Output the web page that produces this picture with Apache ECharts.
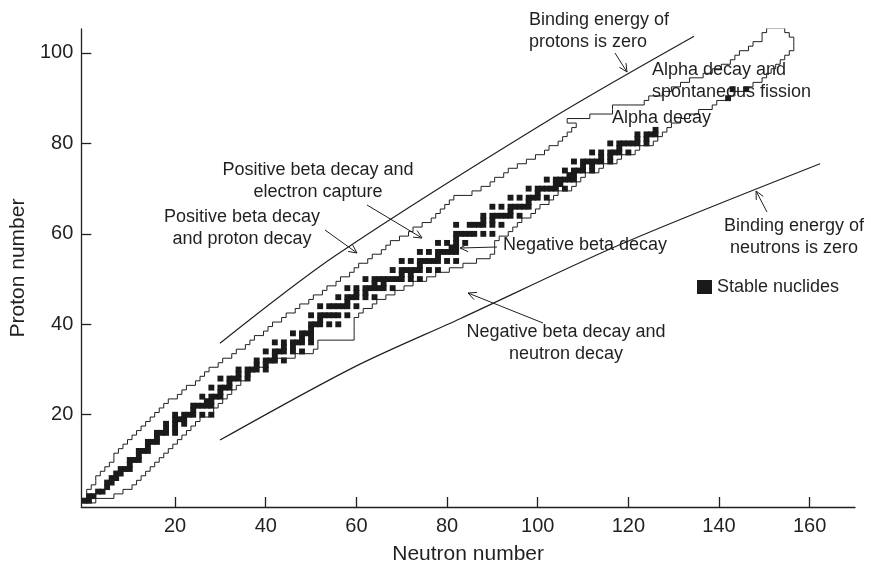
<!DOCTYPE html>
<html>
<head>
<meta charset="utf-8">
<script src="https://cdn.jsdelivr.net/npm/echarts@6/dist/echarts.min.js"></script>
<style>
  html, body { margin: 0; padding: 0; background: #fff; }
  #chart { width: 871px; height: 570px; }
</style>
</head>
<body>
<div id="chart"></div>
<script>
// known nuclides: one row per proton number, from nMin to nMax neutrons
const firstZ = 1;
const knownNmin = [
  0, 1, 1, 2, 3, 3, 4, 5, 6, 7,
  7, 8, 9, 10, 11, 12, 13, 14, 15, 16,
  17, 18, 19, 21, 22, 23, 25, 26, 27, 28,
  30, 31, 33, 34, 36, 37, 38, 40, 41, 42,
  44, 45, 47, 48, 50, 51, 53, 54, 56, 57,
  59, 60, 61, 63, 64, 66, 67, 68, 70, 72,
  73, 75, 77, 78, 79, 80, 81, 82, 86, 88,
  90, 91, 93, 94, 96, 98, 100, 102, 103, 105,
  106, 107, 108, 109, 107, 112, 117, 117, 124, 125,
  128, 130, 132, 134, 137, 139, 141, 143, 144, 145,
  147, 148, 150, 150, 151
];
const knownNmax = [
  2, 6, 8, 10, 11, 12, 13, 14, 15, 16,
  17, 18, 19, 20, 21, 22, 23, 24, 25, 27,
  28, 29, 30, 31, 32, 33, 34, 35, 36, 37,
  39, 42, 46, 50, 51, 51, 59, 59, 59, 59,
  59, 60, 61, 63, 64, 66, 68, 70, 72, 75,
  77, 80, 83, 86, 89, 90, 90, 90, 91, 93,
  94, 95, 96, 98, 99, 100, 102, 103, 104, 107,
  108, 109, 110, 113, 114, 117, 118, 121, 122, 125,
  126, 127, 128, 129, 131, 133, 135, 138, 139, 142,
  143, 146, 147, 149, 150, 151, 152, 153, 154, 155,
  156, 156, 156, 155, 154
];

// stable nuclides: proton number and its stable neutron numbers
const stableZ = [
  1, 2, 3, 4, 5, 6, 7, 8, 9, 10, 11, 12, 13, 14, 15, 16, 17, 18, 19, 20,
  21, 22, 23, 24, 25, 26, 27, 28, 29, 30, 31, 32, 33, 34, 35, 36, 37, 38, 39, 40,
  41, 42, 44, 45, 46, 47, 48, 49, 50, 51, 52, 53, 54, 55, 56, 57, 58, 59, 60,
  62, 63, 64, 65, 66, 67, 68, 69, 70, 71, 72, 73, 74, 75, 76, 77, 78, 79, 80,
  81, 82, 83, 90, 92
];
const stableN = [
  [0, 1], [1, 2], [3, 4], [5], [5, 6], [6, 7], [7, 8], [8, 9, 10], [10], [10, 11, 12],
  [12], [12, 13, 14], [14], [14, 15, 16], [16], [16, 17, 18, 20], [18, 20], [18, 20, 22],
  [20, 21, 22], [20, 22, 23, 24, 26, 28],
  [24], [24, 25, 26, 27, 28], [27, 28], [26, 28, 29, 30], [30], [28, 30, 31, 32], [32],
  [30, 32, 33, 34, 36], [34, 36], [34, 36, 37, 38, 40], [38, 40], [38, 40, 41, 42, 44],
  [42], [40, 42, 43, 44, 46, 48], [44, 46], [42, 44, 46, 47, 48, 50], [48, 50],
  [46, 48, 49, 50], [50], [50, 51, 52, 54, 56],
  [52], [50, 52, 53, 54, 55, 56, 58], [52, 54, 55, 56, 57, 58, 60], [58],
  [56, 58, 59, 60, 62, 64], [60, 62], [58, 60, 62, 63, 64, 65, 66, 68], [64, 66],
  [62, 64, 65, 66, 67, 68, 69, 70, 72, 74], [70, 72], [68, 70, 71, 72, 73, 74, 76, 78],
  [74], [70, 72, 74, 75, 76, 77, 78, 80, 82], [78], [74, 76, 78, 79, 80, 81, 82],
  [81, 82], [78, 80, 82, 84], [82], [82, 83, 84, 85, 86, 88, 90],
  [82, 85, 86, 87, 88, 90, 92], [88, 90], [88, 90, 91, 92, 93, 94, 96], [94],
  [90, 92, 94, 95, 96, 97, 98], [98], [94, 96, 98, 99, 100, 102], [100],
  [98, 100, 101, 102, 103, 104, 106], [104, 105], [102, 104, 105, 106, 107, 108],
  [107, 108], [106, 108, 109, 110, 112], [110, 112], [108, 110, 111, 112, 113, 114, 116],
  [114, 116], [112, 114, 116, 117, 118, 120], [118], [116, 118, 119, 120, 121, 122, 124],
  [122, 124], [122, 124, 125, 126], [126], [142], [143, 146]
];

// lines where the binding energy of the last nucleon is zero
const protonDripLine = [[29.9, 35.8], [55.4, 55.2], [102.7, 85.3], [134.5, 103.7]];
const neutronDripLine = [[29.9, 14.4], [59.8, 30.7], [83.0, 41.3], [118.6, 57.8], [162.3, 75.5]];

const xTicks = [20, 40, 60, 80, 100, 120, 140, 160];
const yTicks = [20, 40, 60, 80, 100];

const ink = '#231f20';
const font = '"Liberation Sans", Arial, Helvetica, sans-serif';

// outline of the known nuclides, walked round the cells
const outline = [];
knownNmin.forEach((n, i) => {
  const z = firstZ + i;
  outline.push([n - 0.5, z - 0.5], [n - 0.5, z + 0.5]);
});
for (let i = knownNmax.length - 1; i >= 0; i--) {
  const z = firstZ + i;
  outline.push([knownNmax[i] + 0.5, z + 0.5], [knownNmax[i] + 0.5, z - 0.5]);
}
outline.push(outline[0]);

const stableCells = [];
stableZ.forEach((z, i) => {
  stableN[i].forEach(n => stableCells.push([n, z]));
});

// annotations (page pixels)
const notes = [
  { text: 'Binding energy of\nprotons is zero', x: 529, y: 31, align: 'left' },
  { text: 'Alpha decay and\nspontaneous fission', x: 652, y: 81, align: 'left' },
  { text: 'Alpha decay', x: 612, y: 118, align: 'left' },
  { text: 'Positive beta decay and\nelectron capture', x: 318, y: 181, align: 'center' },
  { text: 'Positive beta decay\nand proton decay', x: 242, y: 228, align: 'center' },
  { text: 'Negative beta decay', x: 503, y: 245, align: 'left' },
  { text: 'Negative beta decay and\nneutron decay', x: 566, y: 343, align: 'center' },
  { text: 'Binding energy of\nneutrons is zero', x: 794, y: 237, align: 'center' }
];
const arrows = [
  [615, 53, 627, 72],
  [367, 205, 422, 238],
  [325, 230, 357, 253],
  [497, 247, 460, 248],
  [543, 323, 468, 293],
  [767, 212, 756, 191]
];

const graphic = [];
notes.forEach(n => {
  graphic.push({
    type: 'text', x: n.x, y: n.y, z: 100,
    style: {
      text: n.text, fill: ink, fontSize: 18, fontFamily: font,
      textAlign: n.align, textVerticalAlign: 'middle', lineHeight: 22
    }
  });
});
arrows.forEach(a => {
  const [x1, y1, x2, y2] = a;
  const ang = Math.atan2(y2 - y1, x2 - x1);
  const len = 9, spread = 0.45;
  const h1 = [x2 - len * Math.cos(ang - spread), y2 - len * Math.sin(ang - spread)];
  const h2 = [x2 - len * Math.cos(ang + spread), y2 - len * Math.sin(ang + spread)];
  graphic.push({ type: 'line', z: 100, shape: { x1, y1, x2, y2 }, style: { stroke: ink, lineWidth: 1 } });
  graphic.push({ type: 'polyline', z: 100, shape: { points: [h1, [x2, y2], h2] }, style: { stroke: ink, lineWidth: 1, fill: null } });
});

const chart = echarts.init(document.getElementById('chart'), null, { renderer: 'canvas' });
chart.setOption({
  animation: false,
  backgroundColor: '#fff',
  grid: { left: 73, right: 16, top: 29, bottom: 60 },
  legend: {
    left: 692, top: 273,
    itemWidth: 15, itemHeight: 14, itemGap: 6,
    textStyle: { fontSize: 18, color: ink, fontFamily: font },
    data: [{ name: 'Stable nuclides', icon: 'rect' }]
  },
  xAxis: {
    type: 'value', min: -0.7, max: 170,
    name: 'Neutron number', nameLocation: 'middle', nameGap: 37,
    nameTextStyle: { fontSize: 21, color: ink, fontFamily: font },
    axisLine: { onZero: false, lineStyle: { color: ink, width: 1.3 } },
    axisTick: { inside: true, length: 10, customValues: xTicks, lineStyle: { color: ink, width: 1.3 } },
    axisLabel: { customValues: xTicks, fontSize: 20, color: ink, fontFamily: font, margin: 9 },
    splitLine: { show: false }
  },
  yAxis: {
    type: 'value', min: -0.4, max: 105.3,
    name: 'Proton number', nameLocation: 'middle', nameGap: 47,
    nameTextStyle: { fontSize: 21, color: ink, fontFamily: font },
    axisLine: { onZero: false, lineStyle: { color: ink, width: 1.3 } },
    axisTick: { inside: true, length: 10, customValues: yTicks, lineStyle: { color: ink, width: 1.3 } },
    axisLabel: { customValues: yTicks, fontSize: 20, color: ink, fontFamily: font, margin: 8 },
    splitLine: { show: false }
  },
  series: [
    {
      name: 'Known nuclides', type: 'line', data: outline,
      showSymbol: false, silent: true,
      lineStyle: { color: ink, width: 1 }
    },
    {
      name: 'Stable nuclides', type: 'custom', data: stableCells,
      encode: { x: 0, y: 1 },
      itemStyle: { color: '#1a1a1a' },
      renderItem: function (params, api) {
        // cells drawn a little fuller than one unit, as in the printed chart
        const p0 = api.coord([api.value(0) - 0.65, api.value(1) + 0.65]);
        const p1 = api.coord([api.value(0) + 0.65, api.value(1) - 0.65]);
        return {
          type: 'rect',
          shape: { x: p0[0], y: p0[1], width: p1[0] - p0[0], height: p1[1] - p0[1] },
          style: { fill: '#1a1a1a' }
        };
      }
    },
    {
      name: 'Proton drip', type: 'line', data: protonDripLine,
      smooth: 0.3, showSymbol: false, silent: true,
      lineStyle: { color: ink, width: 1.2 }
    },
    {
      name: 'Neutron drip', type: 'line', data: neutronDripLine,
      smooth: 0.3, showSymbol: false, silent: true,
      lineStyle: { color: ink, width: 1.2 }
    }
  ],
  graphic: graphic
});
</script>
</body>
</html>
